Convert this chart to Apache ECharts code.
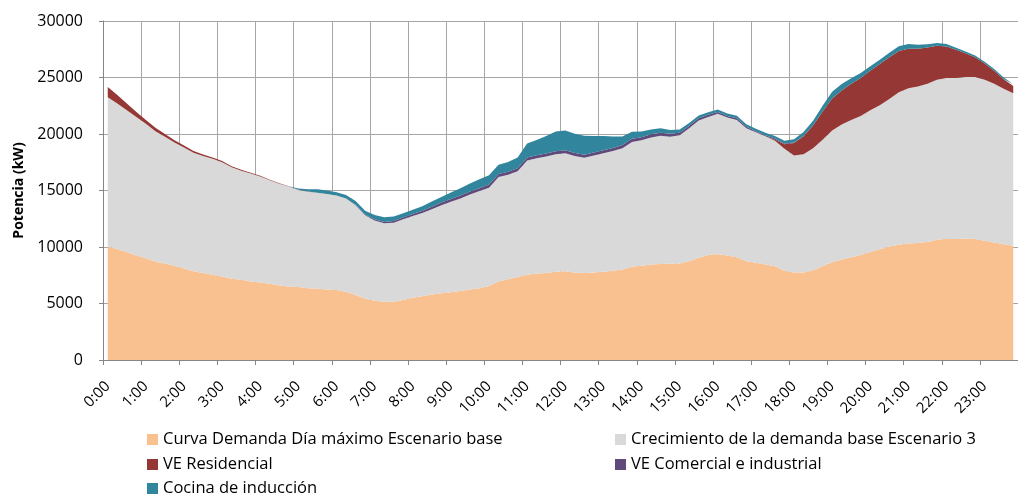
<!DOCTYPE html>
<html>
<head>
<meta charset="utf-8">
<script src="https://cdn.jsdelivr.net/npm/echarts@6/dist/echarts.min.js"></script>
<style>
  html, body { margin: 0; padding: 0; background: #fff; overflow: hidden; }
  #chart { width: 1018px; height: 496px; }
</style>
</head>
<body>
<div id="chart"></div>
<script>
// Quarter-hour time slots of the day (96 categories)
const times = [];
for (let h = 0; h < 24; h++) {
  for (const m of ['00', '15', '30', '45']) times.push(h + ':' + m);
}

const yTicks = [0, 5000, 10000, 15000, 20000, 25000, 30000];

// Demand profiles in kW, one value per quarter hour
const curvaBase = [
  10050, 9800, 9550, 9250, 9000, 8700, 8550, 8350, 8100, 7850, 7700, 7550,
  7400, 7200, 7100, 6950, 6850, 6750, 6600, 6500, 6450, 6350, 6300, 6250,
  6200, 6050, 5750, 5450, 5250, 5150, 5150, 5300, 5500, 5650, 5800, 5900,
  6000, 6100, 6250, 6350, 6550, 6950, 7150, 7350, 7550, 7650, 7700, 7800,
  7850, 7750, 7700, 7750, 7800, 7900, 8000, 8250, 8350, 8450, 8500, 8550,
  8550, 8750, 9050, 9300, 9350, 9250, 9100, 8750, 8600, 8450, 8300, 7900,
  7750, 7750, 7950, 8300, 8650, 8900, 9100, 9300, 9550, 9800, 10050, 10200,
  10300, 10350, 10450, 10650, 10700, 10700, 10750, 10700, 10550, 10400, 10250, 10100
];

const crecimiento = [
  13200, 12900, 12550, 12250, 11900, 11550, 11200, 10900, 10700, 10500, 10350, 10250,
  10100, 9850, 9650, 9550, 9400, 9150, 9000, 8850, 8600, 8550, 8500, 8450,
  8350, 8250, 7950, 7350, 7100, 6950, 7000, 7150, 7250, 7350, 7550, 7800,
  8000, 8200, 8400, 8600, 8700, 9250, 9250, 9350, 10100, 10200, 10300, 10400,
  10450, 10300, 10200, 10350, 10500, 10600, 10750, 11050, 11100, 11250, 11350, 11200,
  11350, 11750, 12150, 12200, 12450, 12200, 12150, 11750, 11550, 11350, 11100, 10800,
  10350, 10450, 10800, 11200, 11650, 11950, 12150, 12300, 12550, 12750, 13050, 13500,
  13750, 13850, 14000, 14150, 14250, 14250, 14300, 14350, 14250, 14050, 13750, 13500
];

const veResidencial = [
  900, 750, 600, 450, 350, 300, 250, 200, 180, 150, 130, 110,
  100, 90, 80, 70, 60, 50, 40, 30, 20, 10, 0, 0,
  0, 0, 0, 0, 0, 0, 0, 0, 0, 0, 0, 0,
  0, 0, 0, 0, 0, 0, 0, 0, 0, 0, 0, 0,
  0, 0, 0, 0, 0, 0, 0, 0, 0, 0, 0, 0,
  0, 0, 0, 0, 0, 0, 0, 0, 0, 0, 100, 400,
  1100, 1600, 2000, 2500, 2850, 3000, 3200, 3350, 3500, 3650, 3700, 3650,
  3500, 3350, 3200, 3000, 2800, 2500, 2100, 1750, 1450, 1150, 850, 650
];

const veComercial = [
  0, 0, 0, 0, 0, 0, 0, 0, 0, 0, 0, 0,
  0, 0, 0, 0, 0, 0, 0, 0, 0, 0, 0, 0,
  0, 0, 30, 60, 100, 120, 140, 160, 180, 200, 220, 230,
  240, 250, 260, 260, 270, 270, 270, 270, 270, 270, 270, 270,
  270, 270, 270, 270, 270, 270, 270, 270, 270, 270, 270, 270,
  200, 200, 200, 200, 150, 150, 150, 150, 100, 100, 100, 60,
  40, 20, 0, 0, 0, 0, 0, 0, 0, 0, 0, 0,
  0, 0, 0, 0, 0, 0, 0, 0, 0, 0, 0, 0
];

const cocinaInduccion = [
  0, 0, 0, 0, 0, 0, 0, 0, 0, 0, 0, 0,
  0, 0, 0, 0, 0, 0, 0, 0, 100, 200, 300, 300,
  300, 300, 330, 350, 380, 420, 400, 380, 370, 400, 450, 500,
  580, 650, 720, 780, 820, 800, 850, 950, 1250, 1350, 1550, 1750,
  1750, 1700, 1680, 1450, 1250, 1000, 750, 620, 500, 420, 380, 330,
  300, 270, 240, 220, 210, 210, 210, 210, 210, 210, 220, 250,
  300, 350, 420, 500, 580, 580, 480, 440, 400, 360, 380, 420,
  420, 350, 300, 250, 220, 180, 160, 150, 150, 150, 150, 150
];

const seriesNames = [
  'Curva Demanda Día máximo Escenario base',
  'Crecimiento de la demanda base Escenario 3',
  'VE Residencial',
  'VE Comercial e industrial',
  'Cocina de inducción'
];
const seriesColors = ['#F9C090', '#D9D9D9', '#953735', '#604A7B', '#31859C'];
const seriesData = [curvaBase, crecimiento, veResidencial, veComercial, cocinaInduccion];

const FONT = '"Open Sans", Lato, sans-serif';

// Legend entries laid out in a two-column grid below the plot
const legendSlots = [
  { left: 147, top: 431 },
  { left: 615, top: 431 },
  { left: 147, top: 456 },
  { left: 615, top: 456 },
  { left: 147, top: 480 }
];

const chart = echarts.init(document.getElementById('chart'), null, { renderer: 'canvas' });

chart.setOption({
  animation: false,
  backgroundColor: '#ffffff',
  textStyle: { fontFamily: FONT, color: '#000' },
  // the plot runs slightly past the right edge of the canvas
  grid: { left: 103, right: -11, top: 21, bottom: 136, containLabel: false },
  legend: seriesNames.map((name, k) => ({
    data: [name],
    left: legendSlots[k].left,
    top: legendSlots[k].top,
    padding: 0,
    itemWidth: 11,
    itemHeight: 11,
    icon: 'rect',
    selectedMode: false,
    textStyle: { fontFamily: FONT, fontSize: 16.5, color: '#000' }
  })),
  xAxis: {
    type: 'category',
    data: times,
    boundaryGap: true,
    axisLine: { show: true, lineStyle: { color: '#868686', width: 1 } },
    axisTick: { show: true, interval: 3, length: 5, lineStyle: { color: '#868686' } },
    splitLine: { show: true, interval: 3, lineStyle: { color: '#A6A6A6', width: 1 } },
    axisLabel: {
      interval: 3,
      rotate: 45,
      margin: 24,
      fontFamily: FONT,
      fontSize: 15,
      color: '#000'
    }
  },
  yAxis: {
    type: 'value',
    min: yTicks[0],
    max: yTicks[yTicks.length - 1],
    interval: yTicks[1] - yTicks[0],
    name: 'Potencia (kW)',
    nameLocation: 'middle',
    nameGap: 77,
    nameRotate: 90,
    nameTextStyle: { fontFamily: FONT, fontSize: 14, fontWeight: 'bold', color: '#000' },
    axisLine: { show: true, lineStyle: { color: '#868686', width: 1 } },
    axisTick: { show: true, length: 4, lineStyle: { color: '#868686' } },
    splitLine: { show: true, lineStyle: { color: '#A6A6A6', width: 1 } },
    axisLabel: {
      margin: 20,
      fontFamily: FONT,
      fontSize: 16,
      color: '#000',
      formatter: (v) => String(v)
    }
  },
  series: seriesNames.map((name, k) => ({
    name: name,
    type: 'line',
    stack: 'total',
    data: seriesData[k],
    showSymbol: false,
    symbol: 'none',
    lineStyle: { width: 0 },
    areaStyle: { color: seriesColors[k], opacity: 1 },
    itemStyle: { color: seriesColors[k] },
    emphasis: { disabled: true },
    z: 2 + k
  }))
});
</script>
</body>
</html>
